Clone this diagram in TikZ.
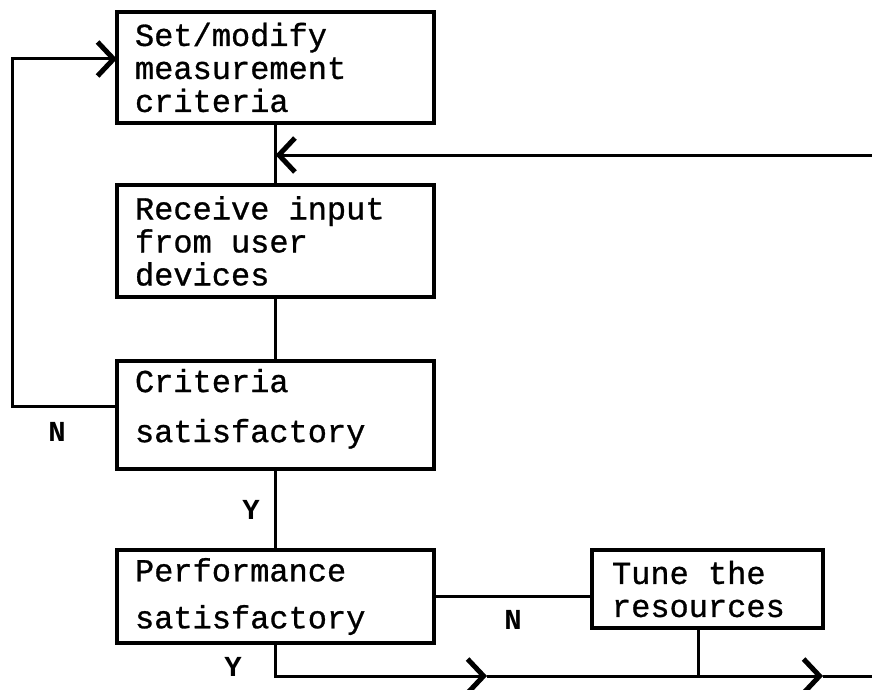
\documentclass[tikz,border=0pt]{standalone}
\usepackage{fontspec}
\setmainfont{Liberation Mono}
\newfontfamily\boxfont{Liberation Mono}[FakeBold=0.9]
\newfontfamily\lblfont{Liberation Mono Bold}
\newcommand\boxtext{\boxfont\fontsize{32}{33}\selectfont}
\usetikzlibrary{arrows.meta}
\tikzset{
  box/.style={draw, rectangle, line width=3.5pt, anchor=north west, outer sep=0pt,
    align=left, inner xsep=18pt, inner ysep=0pt, minimum width=317pt,
    text width=281pt, font=\boxtext,
    execute at begin node={\spaceskip=19.2pt\relax\xspaceskip=19.2pt\relax}},
  link/.style={line width=3pt},
  chev/.style={-{Straight Barb[length=16pt,width=34pt,line width=5pt]}},
  yn/.style={font=\lblfont\fontsize{29}{29}\selectfont, inner sep=0pt},
}
\begin{document}
\begin{tikzpicture}[x=1pt,y=-1pt]
\useasboundingbox (0,0) rectangle (872,690);

% process boxes
\node[box, minimum height=111pt] (b1) at (117,12) {Set/modify\\measurement\\criteria};
\node[box, minimum height=112pt] (b2) at (117,185) {Receive input\\from user\\devices};
\node[box, minimum height=108pt] (b3) at (117,361) {Criteria\\[17pt]satisfactory\\[-14pt]\rule{0pt}{10pt}};
\node[box, minimum height=93pt] (b4) at (117,550) {Performance\\[14pt]satisfactory};
\node[box, minimum height=78pt, minimum width=231pt, text width=191pt, inner xsep=20pt] (tn) at (592,550) {Tune the\\resources};

% branch labels
\node[yn] (nA) at (57,432) {N};
\node[yn] (yA) at (251,510) {Y};
\node[yn] (nB) at (513,620) {N};
\node[yn] (yB) at (233,667) {Y};

% helper points on the open ends and along the bottom line
\coordinate (fbR) at (872,155);
\coordinate (fbL) at (275.5,155);
\coordinate (a1) at (487,676);
\coordinate (a2) at (823,676);
\coordinate (br) at (872,676);

% main flow
\draw[link] (b1.south) -- (b2.north);
\draw[link, chev] (fbR) -- (fbL);
\draw[link] (b2.south) -- (b3.north);
\draw[link] (b3.south) -- (b4.north);

% criteria not satisfactory: back to the top
\draw[link, chev] ([yshift=9pt]b3.west) -- ++(-105,0) |- ([yshift=8.5pt]b1.west);

% performance not satisfactory: tune
\draw[link] (b4.east) -- (b4.east -| tn.west);

% performance satisfactory / after tuning
\draw[link, chev] (b4.south) |- (a1);
\draw[link, chev] (a1) -- (a2);
\draw[link] (a2) -- (br);
\draw[link] ([xshift=-9.5pt]tn.south) -- ([xshift=-9.5pt]tn.south |- a1);
\end{tikzpicture}
\end{document}
